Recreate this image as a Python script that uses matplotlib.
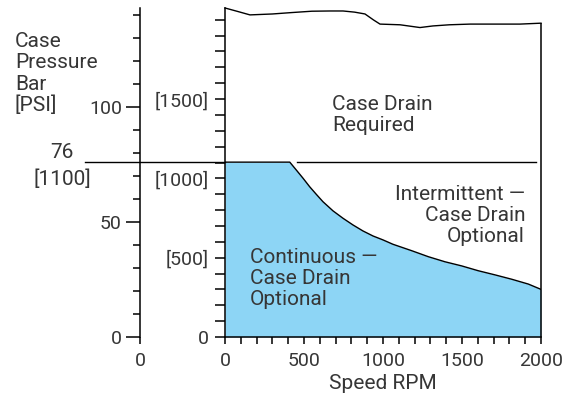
import numpy as np
import matplotlib.pyplot as plt
from matplotlib.lines import Line2D
from matplotlib.transforms import blended_transform_factory

plt.rcParams['font.family'] = ['Roboto', 'DejaVu Sans']
plt.rcParams['font.size'] = 15

# Data
speed_rpm = [0, 410, 451, 494, 536, 578, 620, 684, 747, 810, 873, 937, 1000,
             1063, 1182, 1287, 1392, 1498, 1603, 1709, 1815, 1920, 2000]
limit_bar = [76, 76, 72.6, 69.0, 65.3, 62.0, 58.8, 54.8, 51.6, 48.7, 46.1, 43.9, 42.2,
             40.3, 37.5, 34.9, 32.7, 30.9, 28.8, 27.0, 25.1, 23.0, 20.7]

# torn-paper top edge of the chart
edge_rpm = [0, 80, 158, 300, 420, 550, 665, 747, 820, 886, 940, 981, 1108, 1234,
            1316, 1420, 1551, 1741, 1867, 2000]
edge_bar = [143, 141.5, 140, 140.4, 141, 141.6, 141.7, 141.7, 141.2, 140.4, 137.8, 136,
            135.7, 134.5, 135.2, 135.7, 136, 136, 136, 136.4]

threshold_bar = 76
threshold_psi = 1100
bar_ticks = [0, 50, 100]
bar_minor = np.arange(0, 141, 10)
psi_ticks = [0, 500, 1000, 1500]
psi_labels = ['0', '[500]', '[1000]', '[1500]']
psi_minor = np.arange(0, 2001, 100)
rpm_ticks = [0, 500, 1000, 1500, 2000]
rpm_minor = np.arange(0, 2001, 100)
y_title_lines = ['Case', 'Pressure', 'Bar', '[PSI]']
PSI_PER_BAR = 14.5038

blue = '#8dd5f5'
ink = '#363636'

W, H = 581, 403
fig = plt.figure(figsize=(W / 100, H / 100), dpi=100)


def px_box(l, r, b, t):
    return [l / W, 1 - b / H, (r - l) / W, (b - t) / H]


ax = fig.add_axes(px_box(225, 541, 337, 5))
axb = fig.add_axes(px_box(140, 150, 337, 5))
ylim = (0, 144.3)

# main chart (speed vs pressure, PSI axis on the left)
ax.fill_between(speed_rpm, 0, limit_bar, color=blue, lw=0)
ax.plot(speed_rpm, limit_bar, color='black', lw=1.0)
ax.plot(edge_rpm, edge_bar, color='black', lw=1.0, clip_on=False)
ax.vlines(edge_rpm[-1], 0, edge_bar[-1], color='black', lw=1.1, clip_on=False)
ax.axhline(threshold_bar, xmin=(297 - 225) / 316, xmax=(536 - 225) / 316,
           color='black', lw=1.0)

ax.set_xlim(0, 2000)
ax.set_ylim(*ylim)
for s in ['top', 'right']:
    ax.spines[s].set_visible(False)
ax.spines['left'].set_bounds(0, edge_bar[0])
ax.spines['left'].set_linewidth(1.1)
ax.spines['bottom'].set_linewidth(1.1)

ax.set_yticks([p / PSI_PER_BAR for p in psi_ticks])
ax.set_yticklabels(psi_labels)
ax.set_yticks([p / PSI_PER_BAR for p in psi_minor], minor=True)
ax.tick_params(axis='y', which='both', length=7.5, width=1.1, pad=4, colors='black',
               labelcolor=ink, labelsize=14)
ax.set_xticks(rpm_ticks)
ax.set_xticks(rpm_minor, minor=True)
ax.tick_params(axis='x', which='both', length=5, width=1.1, pad=6, colors='black',
               labelcolor=ink, labelsize=14)
ax.set_xlabel('Speed RPM', color=ink, labelpad=3)

# bar axis
axb.set_xlim(0, 1)
axb.set_ylim(*ylim)
axb.patch.set_visible(False)
for s in ['top', 'right', 'bottom']:
    axb.spines[s].set_visible(False)
axb.spines['left'].set_bounds(0, edge_bar[0])
axb.spines['left'].set_linewidth(1.1)
axb.set_yticks(bar_ticks)
axb.set_yticks(bar_minor, minor=True)
axb.tick_params(axis='y', which='major', length=10, width=1.1, pad=3, labelcolor=ink,
                labelsize=14)
axb.tick_params(axis='y', which='minor', length=5, width=1.1)
axb.set_xticks([0])
axb.tick_params(axis='x', length=5, width=1.1, pad=6, labelcolor=ink, labelsize=14)

# threshold line across the left axes
tr = blended_transform_factory(fig.transFigure, ax.transData)
fig.add_artist(Line2D([85 / W, 225 / W], [threshold_bar, threshold_bar],
                      transform=tr, color='black', lw=1.0))
fig.text(62 / W, 1 - 152 / H, str(threshold_bar), ha='center', va='center', color=ink)
fig.text(62 / W, 1 - 179 / H, '[%d]' % threshold_psi, ha='center', va='center', color=ink)

# axis title, one text per line
for i, line in enumerate(y_title_lines):
    fig.text(15 / W, 1 - (47 + 21.5 * i) / H, line, ha='left', va='baseline', color=ink)

ax.text(677, 105, 'Case Drain\nRequired', ha='left', va='top', color=ink, linespacing=1.12)
ax.text(1899, 66, 'Intermittent \u2014\nCase Drain\nOptional', ha='right', va='top',
        color=ink, linespacing=1.12)
ax.text(158, 38.5, 'Continuous \u2014\nCase Drain\nOptional', ha='left', va='top',
        color=ink, linespacing=1.12)

fig.savefig('out.png', dpi=100)
